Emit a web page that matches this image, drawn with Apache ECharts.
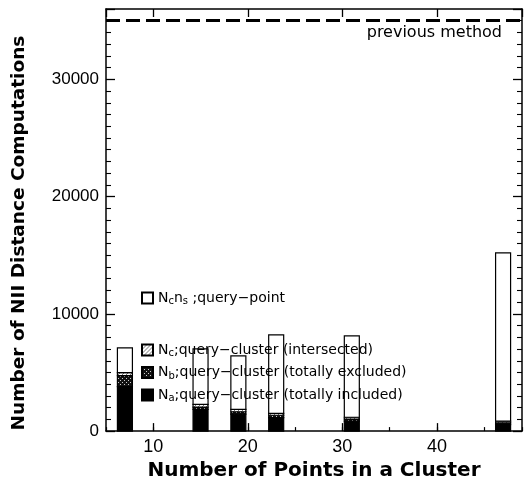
<!DOCTYPE html>
<html><head><meta charset="utf-8">
<script src="https://cdn.jsdelivr.net/npm/echarts@6/dist/echarts.min.js"></script>
<style>html,body{margin:0;padding:0;background:#fff}#c{width:525px;height:486px}</style>
</head><body><div id="c"></div>
<script>
// ---- data ----
var clusterSizes = [7, 15, 19, 23, 31, 47];
var naIncluded   = [3800, 1850, 1450, 1150, 850, 550];
var nbExcluded   = [930, 200, 200, 200, 180, 150];
var ncIntersect  = [260, 230, 210, 170, 150, 150];
var queryPoint   = [2110, 4740, 4560, 6680, 6940, 14350];
var previousMethod = [35000];
var xTickLabels = [10, 20, 30, 40];
var yTickLabels = [0, 10000, 20000, 30000];

var FONT = 'Liberation Sans, Arial, Helvetica, sans-serif';
var WFONT = 'DejaVu Sans, Verdana, sans-serif';

function pattern(bg, fg, pts) {
  var c = document.createElement('canvas');
  c.width = 4; c.height = 4;
  var g = c.getContext('2d');
  g.fillStyle = bg; g.fillRect(0, 0, 4, 4);
  g.fillStyle = fg;
  pts.forEach(function (p) { g.fillRect(p[0], p[1], 1, 1); });
  return { image: c, repeat: 'repeat' };
}
var patNb = pattern('#111', '#ccc', [[0, 0], [2, 2]]);
var patNc = pattern('#fff', '#777', [[0, 0], [2, 2], [1, 3], [3, 1]]);

// stacked segments: [x, base, top]
var layers = [naIncluded, nbExcluded, ncIntersect, queryPoint];
function segments(layerIdx) {
  return clusterSizes.map(function (x, i) {
    var base = 0;
    for (var k = 0; k < layerIdx; k++) base += layers[k][i];
    return [x, base, base + layers[layerIdx][i]];
  });
}

var BAR_W = 15;
function renderBar(fill) {
  return function (params, api) {
    var x = api.value(0);
    var p0 = api.coord([x, api.value(1)]);
    var p1 = api.coord([x, api.value(2)]);
    return {
      type: 'rect',
      shape: { x: p0[0] - BAR_W / 2, y: p1[1], width: BAR_W, height: p0[1] - p1[1] },
      style: { fill: fill, stroke: '#000', lineWidth: 1.2 }
    };
  };
}

var rich = {
  n: { fontSize: 14, fontFamily: WFONT, color: '#000' },
  s: { fontSize: 10, fontFamily: WFONT, color: '#000', padding: [7, 0, 0, 0] }
};
var names = { na: 'Na', nb: 'Nb', nc: 'Nc', qp: 'Ncns' };
var legendText = {
  Na: '{n|N}{s|a}{n|;query−cluster (totally included)}',
  Nb: '{n|N}{s|b}{n|;query−cluster (totally excluded)}',
  Nc: '{n|N}{s|c}{n|;query−cluster (intersected)}',
  Ncns: '{n|N}{s|c}{n|n}{s|s}{n| ;query−point}'
};

function customSeries(name, idx, fill, extra) {
  return Object.assign({
    type: 'custom', name: name, xAxisIndex: 0, yAxisIndex: 0,
    data: segments(idx), encode: { x: 0, y: [1, 2] },
    renderItem: renderBar(fill),
    itemStyle: { color: fill, borderColor: '#000', borderWidth: 1.2 }
  }, extra || {});
}

var option = {
  animation: false,
  backgroundColor: '#fff',
  grid: { left: 106, right: 3, top: 9, bottom: 53 },
  legend: [
    {
      data: [names.qp], left: 136, top: 286, orient: 'vertical',
      itemWidth: 11, itemHeight: 11, icon: 'rect', itemGap: 6,
      formatter: function (n) { return legendText[n]; },
      textStyle: { rich: rich }
    },
    {
      data: [names.nc, names.nb, names.na], left: 136, top: 338, orient: 'vertical',
      itemWidth: 11, itemHeight: 11, icon: 'rect', itemGap: 7,
      formatter: function (n) { return legendText[n]; },
      textStyle: { rich: rich }
    }
  ],
  xAxis: [
    {
      type: 'value', min: 5, max: 49, splitNumber: 4, position: 'bottom',
      axisLine: { show: true, lineStyle: { color: '#000', width: 1.5 } },
      axisTick: { show: true, inside: true, length: 8, lineStyle: { color: '#000', width: 1.3 } },
      axisLabel: {
        showMinLabel: false, showMaxLabel: false, margin: 7,
        fontSize: 18, fontFamily: FONT, color: '#000',
        formatter: function (v) { return xTickLabels.indexOf(v) >= 0 ? String(v) : ''; }
      },
      splitLine: { show: false },
      name: 'Number of Points in a Cluster', nameLocation: 'middle', nameGap: 23,
      nameTextStyle: { fontSize: 20, fontWeight: 'bold', fontFamily: WFONT, color: '#000' }
    },
    {
      type: 'value', min: 5, max: 49, interval: 5, position: 'bottom',
      axisLine: { show: false },
      axisTick: { show: true, inside: true, length: 4, lineStyle: { color: '#000', width: 1.2 } },
      axisLabel: { show: false }, splitLine: { show: false }
    },
    {
      type: 'value', min: 5, max: 49, splitNumber: 4, position: 'top',
      axisLine: { show: true, lineStyle: { color: '#000', width: 1.5 } },
      axisTick: { show: true, inside: true, length: 8, lineStyle: { color: '#000', width: 1.3 } },
      axisLabel: { show: false }, splitLine: { show: false }
    }
  ],
  yAxis: [
    {
      type: 'value', min: 0, max: 36000, interval: 10000, position: 'left',
      axisLine: { show: true, lineStyle: { color: '#000', width: 1.5 } },
      axisTick: { show: true, inside: true, length: 9, lineStyle: { color: '#000', width: 1.3 } },
      minorTick: { show: true, splitNumber: 10, length: 5, lineStyle: { color: '#000', width: 1.1 } },
      axisLabel: {
        showMaxLabel: false, margin: 7, fontSize: 17, fontFamily: FONT, color: '#000',
        formatter: function (v) { return yTickLabels.indexOf(v) >= 0 ? String(v) : ''; }
      },
      splitLine: { show: false },
      name: 'Number of NII Distance Computations', nameLocation: 'middle', nameGap: 77,
      nameTextStyle: { fontSize: 18.5, fontWeight: 'bold', fontFamily: WFONT, color: '#000', padding: [0, 26, 0, 0] }
    },
    {
      type: 'value', min: 0, max: 36000, interval: 10000, position: 'right',
      axisLine: { show: true, lineStyle: { color: '#000', width: 1.5 } },
      axisTick: { show: true, inside: true, length: 9, lineStyle: { color: '#000', width: 1.3 } },
      minorTick: { show: true, splitNumber: 10, length: 5, lineStyle: { color: '#000', width: 1.1 } },
      axisLabel: { show: false }, splitLine: { show: false }
    }
  ],
  series: [
    customSeries(names.na, 0, '#000'),
    customSeries(names.nb, 1, patNb),
    customSeries(names.nc, 2, patNc),
    customSeries(names.qp, 3, '#fff', {
      markLine: {
        silent: true, symbol: 'none',
        lineStyle: { color: '#000', type: [14, 6], width: 3 },
        label: {
          show: true, position: 'insideEndBottom', distance: [20, 4],
          formatter: 'previous method', fontSize: 16, fontFamily: WFONT, color: '#000'
        },
        data: previousMethod.map(function (v) { return { yAxis: v }; })
      }
    })
  ]
};
var chart = echarts.init(document.getElementById('c'), null, { renderer: 'canvas' });
chart.setOption(option);
</script></body></html>
